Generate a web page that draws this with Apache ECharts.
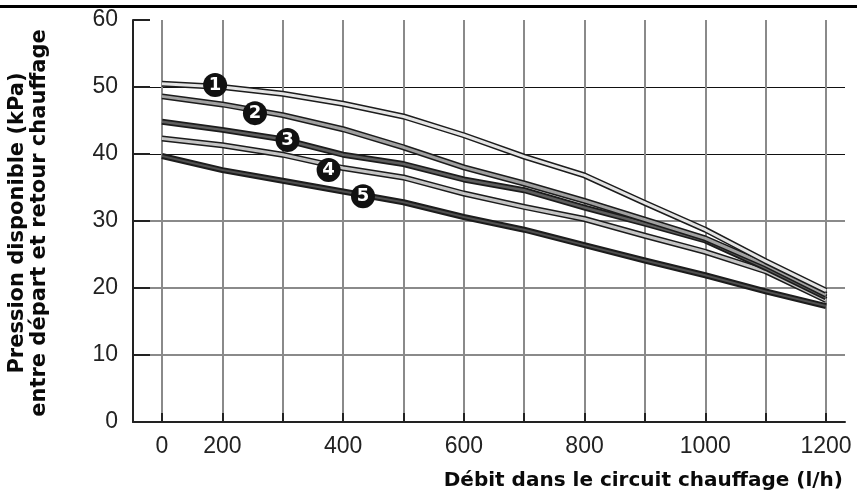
<!DOCTYPE html>
<html><head><meta charset="utf-8">
<script src="https://cdn.jsdelivr.net/npm/echarts@6/dist/echarts.min.js"></script>
<style>html,body{margin:0;padding:0;background:#fff}#c{width:857px;height:495px}</style>
</head><body><div id="c"></div>
<script>
// Flow values (l/h) at which the curves are read
const flows = [0, 200, 300, 400, 500, 600, 700, 800, 900, 1000, 1100, 1200];
// Available pressure (kPa) for curves 1..5
const curve1 = [50.5, 50.0, 49.0, 47.5, 45.6, 42.8, 39.6, 36.8, 32.7, 28.7, 24.0, 19.6];
const curve2 = [48.6, 47.4, 45.8, 43.7, 41.0, 38.0, 35.6, 33.0, 30.2, 27.4, 23.5, 19.0];
const curve3 = [44.8, 43.6, 42.2, 39.9, 38.5, 36.2, 34.6, 32.0, 29.6, 27.1, 23.0, 18.6];
const curve4 = [42.3, 41.3, 39.9, 37.9, 36.5, 34.1, 32.1, 30.3, 27.8, 25.4, 22.5, 18.2];
const curve5 = [39.7, 37.6, 36.0, 34.4, 32.8, 30.6, 28.7, 26.4, 24.1, 21.9, 19.5, 17.3];
const curveNames = ['1', '2', '3', '4', '5'];
// Curve number badges (flow, pressure)
const badgeFlows = [176, 254, 308, 376, 433];
const badgePressures = [50.3, 46.1, 42.1, 37.6, 33.7];
// Axis ticks
const xTickFlows = [0, 200, 300, 400, 500, 600, 700, 800, 900, 1000, 1100, 1200];
const xLabelFlows = [0, 200, 400, 600, 800, 1000, 1200];
const xTickLabels = ['0', '200', '400', '600', '800', '1000', '1200'];
const yTicks = [0, 10, 20, 30, 40, 50, 60];
const xTitle = 'Débit dans le circuit chauffage (l/h)';
const yTitle = ['Pression disponible (kPa)', 'entre départ et retour chauffage'];

// The original chart's flow axis: first division covers 0–200, the others 100 each
function flowPos(f) { return f <= 200 ? f / 200 : 1 + (f - 200) / 100; }

const curves = [curve1, curve2, curve3, curve4, curve5];
const innerColors = ['#e4e4e4', '#a0a0a0', '#5e5e5e', '#c4c4c4', '#505050'];
const outerWidths = [6, 6, 6, 6, 6];
const innerWidths = [3, 3, 2.5, 3, 2];

const labelFont = 'Liberation Sans, Arial, sans-serif';
const titleFont = 'DejaVu Sans, sans-serif';

const series = [];
curves.forEach((c, i) => {
  const data = flows.map((f, j) => [flowPos(f), c[j]]);
  series.push({
    type: 'line', data, symbol: 'none', silent: true, z: 10 + (4 - i) * 2,
    lineStyle: { color: '#1c1c1c', width: outerWidths[i], join: 'round' }
  });
  series.push({
    type: 'line', data, symbol: 'none', silent: true, z: 11 + (4 - i) * 2,
    lineStyle: { color: innerColors[i], width: innerWidths[i], join: 'round' }
  });
});
series.push({
  type: 'scatter', z: 40, symbol: 'circle', symbolSize: 24,
  data: badgeFlows.map((f, i) => [flowPos(f), badgePressures[i]]),
  itemStyle: { color: '#111', opacity: 1 },
  label: {
    show: true, position: 'inside', color: '#fff', fontWeight: 'bold',
    fontSize: 18, fontFamily: 'DejaVu Sans, sans-serif',
    formatter: p => curveNames[p.dataIndex]
  }
});

const pxPerUnit = 60.36;
const xMin = -29 / pxPerUnit;
const xMax = 11 + 19 / pxPerUnit;

const chart = echarts.init(document.getElementById('c'));
chart.setOption({
  animation: false,
  backgroundColor: '#fff',
  grid: { left: 133, right: 12, top: 20, bottom: 73, containLabel: false },
  xAxis: {
    type: 'value', min: xMin, max: xMax,
    axisLine: { show: true, onZero: false, lineStyle: { color: '#222', width: 2 } },
    axisTick: { show: true, inside: true, length: 9, lineStyle: { color: '#222', width: 2 },
      customValues: xTickFlows.map(flowPos) },
    axisLabel: { customValues: xLabelFlows.map(flowPos), margin: 13, fontSize: 23, color: '#222',
      fontFamily: labelFont,
      formatter: v => { const k = xLabelFlows.findIndex(f => Math.abs(flowPos(f) - v) < 1e-6); return k >= 0 ? xTickLabels[k] : ''; } },
    splitLine: { show: true, lineStyle: { color: '#8a8a8a', width: 2 } }
  },
  yAxis: [{
    type: 'value', min: yTicks[0], max: yTicks[yTicks.length - 1], interval: 10,
    axisLine: { show: true, onZero: false, lineStyle: { color: '#222', width: 2 } },
    axisTick: { show: true, inside: true, length: 17, lineStyle: { color: '#222', width: 2 } },
    axisLabel: { margin: 15, fontSize: 23, color: '#222', fontFamily: labelFont },
    splitLine: { show: true, lineStyle: { color: ['transparent', '#8a8a8a', '#8a8a8a', '#8a8a8a', 'transparent', 'transparent', 'transparent'], width: 2 } }
  }, {
    type: 'value', min: yTicks[0], max: yTicks[yTicks.length - 1], interval: 10, position: 'left',
    axisLine: { show: false }, axisTick: { show: false }, axisLabel: { show: false },
    splitLine: { show: true, lineStyle: { color: ['transparent', 'transparent', 'transparent', 'transparent', '#111', '#111', 'transparent'], width: 1 } }
  }],
  graphic: [
    { type: 'rect', left: 0, top: 5, shape: { width: 857, height: 3 }, style: { fill: '#000' }, silent: true },
    { type: 'text', x: 29, y: 223, rotation: Math.PI / 2, silent: true,
      style: { text: yTitle.join('\n'), fill: '#0a0a0a', font: 'bold 21px ' + titleFont,
        textAlign: 'center', textVerticalAlign: 'middle', lineHeight: 22 } },
    { type: 'text', x: 843, y: 481, silent: true,
      style: { text: xTitle, fill: '#0a0a0a', font: 'bold 20px ' + titleFont,
        textAlign: 'right', textVerticalAlign: 'middle' } }
  ],
  series
});
</script></body></html>
